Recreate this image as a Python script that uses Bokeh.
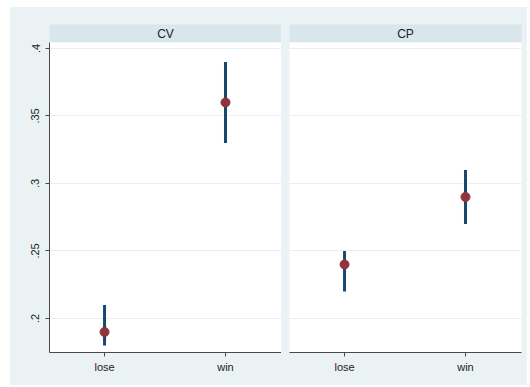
from bokeh.plotting import figure
from bokeh.models import Range1d, FixedTicker, Label, Grid, ColumnDataSource
from bokeh.layouts import row, column
from bokeh.embed import file_html
from bokeh.resources import INLINE

categories = ["lose", "win"]
panels = ["CV", "CP"]
cv_mean = [0.19, 0.36]
cv_lo = [0.18, 0.33]
cv_hi = [0.21, 0.39]
cp_mean = [0.24, 0.29]
cp_lo = [0.22, 0.27]
cp_hi = [0.25, 0.31]
y_ticks = [0.2, 0.25, 0.3, 0.35, 0.4]
y_tick_labels = [".2", ".25", ".3", ".35", ".4"]

BG = "#eaf2f3"
STRIP = "#d9e6eb"
GRID = "#e6eff1"
NAVY = "#1a476f"
MAROON = "#90353b"
AXIS = "#4a4a4a"
FONT = "Liberation Sans"

YR = (0.1748, 0.4044)
XR = (-0.455, 1.463)


def strip_fig(title, width, bl, br):
    s = figure(width=width, height=35, output_backend="svg", toolbar_location=None,
               x_range=Range1d(0, 1), y_range=Range1d(0, 1),
               x_axis_location=None, y_axis_location=None)
    s.min_border_left = bl
    s.min_border_right = br
    s.min_border_top = 17
    s.min_border_bottom = 0
    s.background_fill_color = STRIP
    s.border_fill_color = BG
    s.outline_line_color = None
    s.grid.visible = False
    s.add_layout(Label(x=0.5, y=0.5, text=title, text_align="center", text_baseline="middle",
                       text_font=FONT, text_font_size="12px", text_color="#222222"))
    return s


def main_fig(mean, lo, hi, width, bl, br, show_y):
    p = figure(width=width, height=343, output_backend="svg", toolbar_location=None,
               x_range=Range1d(*XR), y_range=Range1d(*YR),
               y_axis_location="left" if show_y else None)
    p.min_border_left = bl
    p.min_border_right = br
    p.min_border_top = 0
    p.min_border_bottom = 33
    p.background_fill_color = "white"
    p.border_fill_color = BG
    p.outline_line_color = None
    p.xgrid.visible = False
    if show_y:
        p.ygrid.ticker = FixedTicker(ticks=y_ticks)
        p.ygrid.grid_line_color = GRID
        ax = p.yaxis[0]
        ax.ticker = FixedTicker(ticks=y_ticks)
        ax.major_label_overrides = {t: l for t, l in zip(y_ticks, y_tick_labels)}
        ax.major_label_orientation = "vertical"
        ax.major_tick_out = 4
        ax.major_tick_in = 0
        ax.minor_tick_out = 0
        ax.minor_tick_in = 0
        ax.major_label_standoff = 6
        ax.axis_line_color = AXIS
        ax.major_tick_line_color = AXIS
        ax.major_label_text_font = FONT
        ax.major_label_text_font_size = "11px"
        ax.major_label_text_color = "#222222"
    else:
        p.add_layout(Grid(dimension=1, ticker=FixedTicker(ticks=y_ticks), grid_line_color=GRID))
    xa = p.xaxis[0]
    xa.ticker = FixedTicker(ticks=list(range(len(categories))))
    xa.major_label_overrides = {i: c for i, c in enumerate(categories)}
    xa.major_tick_out = 4
    xa.major_tick_in = 0
    xa.minor_tick_out = 0
    xa.minor_tick_in = 0
    xa.major_label_standoff = 4
    xa.axis_line_color = AXIS
    xa.major_tick_line_color = AXIS
    xa.major_label_text_font = FONT
    xa.major_label_text_font_size = "11px"
    xa.major_label_text_color = "#222222"

    src = ColumnDataSource(dict(x=list(range(len(categories))), m=mean, lo=lo, hi=hi))
    p.segment(x0="x", y0="lo", x1="x", y1="hi", source=src, line_color=NAVY, line_width=3)
    p.scatter(x="x", y="m", source=src, size=9, fill_color=MAROON, line_color=MAROON)
    return p


bg_style = {"background-color": BG}
left = column(strip_fig(panels[0], 271, 39, 0), main_fig(cv_mean, cv_lo, cv_hi, 271, 39, 0, True),
              spacing=0, styles=bg_style)
right = column(strip_fig(panels[1], 246, 8, 6), main_fig(cp_mean, cp_lo, cp_hi, 246, 8, 6, False),
               spacing=0, styles=bg_style)
layout = row(left, right, spacing=0, margin=(7, 0, 0, 10), styles=bg_style)

open("out.html", "w").write(file_html(layout, INLINE))
